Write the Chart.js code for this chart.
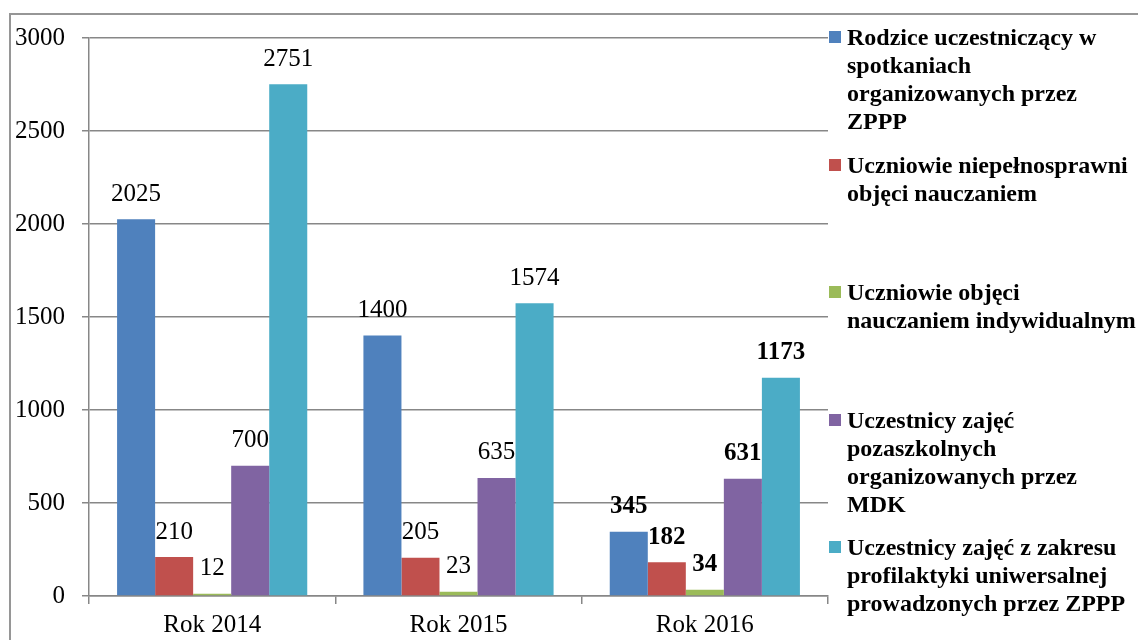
<!DOCTYPE html>
<html lang="pl">
<head>
  <meta charset="UTF-8" />
  <title>Uczestnicy zajęć 2014-2016</title>
  <script src="https://cdn.jsdelivr.net/npm/chart.js"></script>
  <style>
    body {
      margin: 0;
      width: 1138px;
      height: 640px;
      overflow: hidden;
      background: #fff;
      font-family: 'Liberation Serif', 'Times New Roman', serif;
      position: relative;
    }
    .frame {
      position: absolute;
      left: 9px;
      top: 13px;
      width: 1300px;
      height: 800px;
      border: 2px solid #969696;
    }
    .chart-box {
      position: absolute;
      left: 0;
      top: 0;
      width: 1138px;
      height: 640px;
    }
    .legend {
      position: absolute;
      left: 829px;
      top: 23px;
    }
    .legend-item {
      position: relative;
      height: 127.5px;
      padding-left: 18px;
      font-family: 'Liberation Serif', serif;
      font-weight: bold;
      font-size: 24px;
      line-height: 28px;
      color: #000;
      white-space: nowrap;
    }
    .legend-item .box {
      position: absolute;
      left: 0;
      top: 8px;
      width: 12px;
      height: 12px;
    }
  </style>
</head>
<body>
  <div class="frame"></div>
  <div class="chart-box">
    <canvas id="barChart" width="1138" height="640"></canvas>
  </div>
  <div class="legend" id="legend"></div>

  <script>
    const years = ['Rok 2014', 'Rok 2015', 'Rok 2016'];

    const seriesNames = [
      ['Rodzice uczestniczący w', 'spotkaniach', 'organizowanych przez', 'ZPPP'],
      ['Uczniowie niepełnosprawni', 'objęci nauczaniem'],
      ['Uczniowie objęci', 'nauczaniem indywidualnym'],
      ['Uczestnicy zajęć', 'pozaszkolnych', 'organizowanych przez', 'MDK'],
      ['Uczestnicy zajęć z zakresu', 'profilaktyki uniwersalnej', 'prowadzonych przez ZPPP']
    ];

    const rodzice = [2025, 1400, 345];
    const niepelnosprawni = [210, 205, 182];
    const indywidualne = [12, 23, 34];
    const pozaszkolne = [700, 635, 631];
    const profilaktyka = [2751, 1574, 1173];

    const yTicks = [0, 500, 1000, 1500, 2000, 2500, 3000];

    const colors = ['#4F81BD', '#C0504D', '#9BBB59', '#8064A2', '#4BACC6'];
    const allSeries = [rodzice, niepelnosprawni, indywidualne, pozaszkolne, profilaktyka];

    // values above bars; last year is printed in bold
    const valueLabels = {
      id: 'valueLabels',
      afterDatasetsDraw(chart) {
        const ctx = chart.ctx;
        ctx.save();
        ctx.fillStyle = '#000';
        ctx.textAlign = 'center';
        ctx.textBaseline = 'middle';
        chart.data.datasets.forEach((ds, i) => {
          chart.getDatasetMeta(i).data.forEach((bar, j) => {
            const bold = j === 2 ? 'bold ' : '';
            ctx.font = bold + "25px 'Liberation Serif', serif";
            ctx.fillText(ds.data[j], bar.x, bar.y - 25);
          });
        });
        ctx.restore();
      }
    };

    const ctx = document.getElementById('barChart').getContext('2d');
    new Chart(ctx, {
      type: 'bar',
      data: {
        labels: years,
        datasets: allSeries.map((vals, i) => ({
          label: seriesNames[i].join(' '),
          data: vals,
          backgroundColor: colors[i],
          borderWidth: 0,
          categoryPercentage: 0.772,
          barPercentage: 1
        }))
      },
      options: {
        responsive: false,
        animation: false,
        layout: { padding: { left: 0, right: 310, top: 38, bottom: 0 } },
        plugins: {
          legend: { display: false },
          tooltip: { enabled: false }
        },
        scales: {
          x: {
            afterFit: scale => { scale.height = 44; },
            grid: {
              offset: true,
              drawOnChartArea: false,
              color: '#878787',
              lineWidth: 1.5,
              tickLength: 8
            },
            border: { color: '#878787', width: 1.5 },
            ticks: {
              color: '#000',
              padding: 6,
              font: { family: "'Liberation Serif', serif", size: 25 }
            }
          },
          y: {
            min: 0,
            max: 3000,
            afterFit: scale => { scale.width = 89; },
            afterBuildTicks: scale => { scale.ticks = yTicks.map(v => ({ value: v })); },
            grid: { color: '#878787', lineWidth: 1.5, tickLength: 7 },
            border: { color: '#878787', width: 1.5 },
            ticks: {
              color: '#000',
              padding: 17,
              callback: v => String(v),
              font: { family: "'Liberation Serif', serif", size: 25 }
            }
          }
        }
      },
      plugins: [valueLabels]
    });

    // legend as html so the names can wrap like the original
    const legend = document.getElementById('legend');
    seriesNames.forEach((lines, i) => {
      const item = document.createElement('div');
      item.className = 'legend-item';
      item.innerHTML = `<span class="box" style="background:${colors[i]}"></span>` + lines.join('<br>');
      legend.appendChild(item);
    });
  </script>
</body>
</html>
